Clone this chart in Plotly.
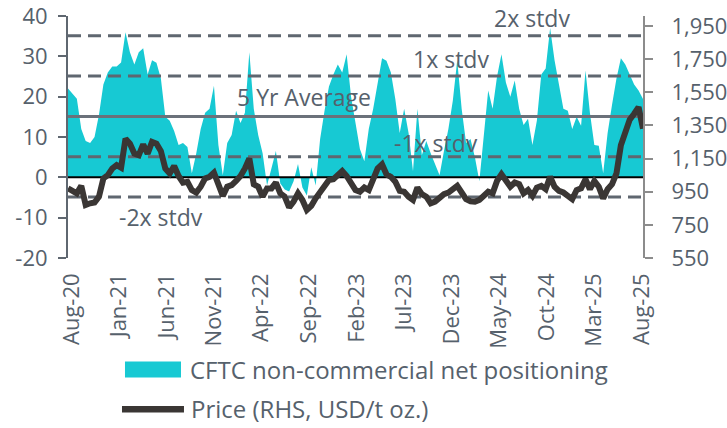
import pandas as pd
import plotly.graph_objects as go

# CFTC non-commercial net positioning (biweekly readings, Jul-2020 .. Aug-2025)
net_positioning = [
    22, 20.8, 19.5, 12, 9, 8.5, 10, 15.5, 23, 26,
    27.5, 27.5, 28.5, 36, 31, 28, 31, 32, 25.5, 29,
    28.4, 24.5, 15, 14, 11.5, 8, 8.5, 7.5, 1, 6,
    12, 16, 17, 22.7, 8, 0.5, 8.5, 10.5, 16.5, 13.5,
    16, 31, 17, 10.5, 6, -2, 2.5, 6.5, -1.5, -3,
    -3.5, -1, 3.3, -2.5, -4.5, 2.5, -2, 9.5, 16.5, 22.5,
    25.5, 28, 26, 30.5, 20, 13.5, 7, 4, 12, 17,
    23, 29.5, 28.9, 26, 19.4, 11, 17, 11, 1.5, 17,
    5.5, 9, 6, 3, 0.5, 6.5, 12, 19, 29, 17,
    8.5, 9.5, 5, -1, 10, 21.5, 17, 25, 30.5, 23.5,
    20, 24, 17, 13, 14.5, 8, 14, 25.5, 27, 37,
    29, 23, 17, 16.5, 12, 15, 12.8, 26.5, 16, 8,
    7.8, 1, 11, 18, 24.5, 29.5, 28, 25.5, 23, 21.5,
    19.4,
]

# Price, USD per troy ounce (right-hand scale)
price = [
    970, 950, 940, 985, 870, 880, 885, 920, 1030, 1050,
    1090, 1110, 1095, 1270, 1240, 1180, 1170, 1235, 1180, 1250,
    1240, 1195, 1090, 1060, 1105, 1045, 1005, 1010, 960, 945,
    980, 1030, 1040, 1065, 990, 925, 980, 990, 1015, 1045,
    1090, 1150, 995, 980, 920, 970, 970, 1005, 940, 920,
    855, 890, 940, 900, 840, 865, 910, 950, 990, 1020,
    1025, 1050, 1075, 1045, 1000, 960, 950, 975, 960, 1030,
    1090, 1115, 1055, 1040, 1010, 955, 950, 920, 900, 975,
    935, 920, 880, 890, 915, 935, 945, 970, 985, 945,
    905, 892, 890, 900, 920, 950, 940, 1015, 1055, 1020,
    980, 1005, 995, 940, 960, 925, 975, 985, 965, 1040,
    980, 955, 945, 925, 905, 960, 970, 1025, 965, 1015,
    980, 910, 965, 995, 1060, 1230, 1320, 1385, 1420, 1460,
    1330,
]

START, END = "2020-07-21", "2025-08-05"
dates = pd.date_range(START, END, periods=len(net_positioning))

# Five-year mean and standard-deviation bands of net positioning
avg_5y = 15.1
stdv = 10.0
band_levels = [avg_5y + 2 * stdv, avg_5y + stdv, avg_5y - stdv, avg_5y - 2 * stdv]

left_ticks = [-20, -10, 0, 10, 20, 30, 40]
left_ticktext = ["-20", "-10", "0", "10", "20", "30", "40"]
right_ticks = [550, 750, 950, 1150, 1350, 1550, 1750, 1950]

CYAN = "#17c9d3"
DARK = "#3a3634"
GREY = "#5f6770"
TEXT = "#56616c"
FONT = "Open Sans"

fig = go.Figure()

fig.add_trace(go.Scatter(
    x=dates, y=net_positioning, mode="lines", fill="tozeroy",
    fillcolor=CYAN, line=dict(width=0, color=CYAN), yaxis="y",
    name="CFTC non-commercial net positioning", hoverinfo="skip",
))

# Band lines and 5-year average
for lvl in band_levels:
    fig.add_trace(go.Scatter(
        x=[START, END], y=[lvl, lvl], mode="lines", yaxis="y",
        line=dict(color=GREY, width=3, dash="13px,7px"), hoverinfo="skip",
    ))
fig.add_trace(go.Scatter(
    x=[START, END], y=[avg_5y, avg_5y], mode="lines", yaxis="y",
    line=dict(color="#6b717a", width=3), hoverinfo="skip",
))
fig.add_trace(go.Scatter(
    x=[START, END], y=[0, 0], mode="lines", yaxis="y",
    line=dict(color="#000000", width=2), hoverinfo="skip",
))

fig.add_trace(go.Scatter(
    x=dates, y=price, mode="lines", yaxis="y2",
    line=dict(color=DARK, width=6), name="Price (RHS, USD/t oz.)",
))

# Band captions
captions = [
    ("2x stdv", 0.807, 39.4),
    ("1x stdv", 0.666, 29.3),
    ("5 Yr Average", 0.411, 19.9),
    ("-1x stdv", 0.640, 8.5),
    ("-2x stdv", 0.162, -9.8),
]
annotations = [
    dict(text=t, x=xp, y=yv, xref="paper", yref="y", showarrow=False,
         xanchor="center", yanchor="middle",
         font=dict(family=FONT, size=23, color=TEXT))
    for t, xp, yv in captions
]

# Legend drawn below the plot
annotations += [
    dict(text="CFTC non-commercial net positioning", x=0.2087, y=-0.461,
         xref="paper", yref="paper", showarrow=False, xanchor="left",
         yanchor="middle", font=dict(family=FONT, size=24, color=TEXT)),
    dict(text="Price (RHS, USD/t oz.)", x=0.2104, y=-0.621,
         xref="paper", yref="paper", showarrow=False, xanchor="left",
         yanchor="middle", font=dict(family=FONT, size=24, color=TEXT)),
]
shapes = [
    dict(type="rect", xref="paper", yref="paper", x0=0.0991, x1=0.1965,
         y0=-0.4938, y1=-0.428, fillcolor=CYAN, line=dict(width=0)),
    dict(type="line", xref="paper", yref="paper", x0=0.0939, x1=0.2017,
         y0=-0.6255, y1=-0.6255, line=dict(color=DARK, width=6.5)),
]

fig.update_layout(
    width=727, height=428,
    margin=dict(l=68, r=84, t=16, b=170, pad=0, autoexpand=False),
    paper_bgcolor="white", plot_bgcolor="white",
    showlegend=False,
    font=dict(family=FONT, size=22, color=TEXT),
    annotations=annotations, shapes=shapes,
    xaxis=dict(
        type="date", range=[START, END], tick0="2020-08-01", dtick="M5",
        tickformat="%b-%y", tickangle=-90, showgrid=False, zeroline=False,
        showline=False, ticks="", ticklabelstandoff=10, automargin=False,
        tickfont=dict(family=FONT, size=22, color=TEXT),
    ),
    yaxis=dict(
        range=[-20, 40], tickvals=left_ticks, ticktext=left_ticktext,
        showgrid=False, zeroline=False, showline=True, linecolor=GREY,
        linewidth=2, ticks="outside", ticklen=8, tickwidth=2, tickcolor=GREY,
        ticklabelstandoff=6, automargin=False, ticklabeloverflow="allow",
        tickfont=dict(family=FONT, size=22, color=TEXT),
    ),
    yaxis2=dict(
        range=[550, 2010], tickvals=right_ticks, tickformat=",d",
        overlaying="y", side="right", showgrid=False, zeroline=False,
        showline=True, linecolor="#8c8c8c", linewidth=2, ticks="outside",
        ticklen=8, tickwidth=2, tickcolor="#8c8c8c", ticklabelstandoff=14,
        automargin=False, ticklabeloverflow="allow",
        tickfont=dict(family=FONT, size=22, color=TEXT),
    ),
)

fig.write_html("out.html")
